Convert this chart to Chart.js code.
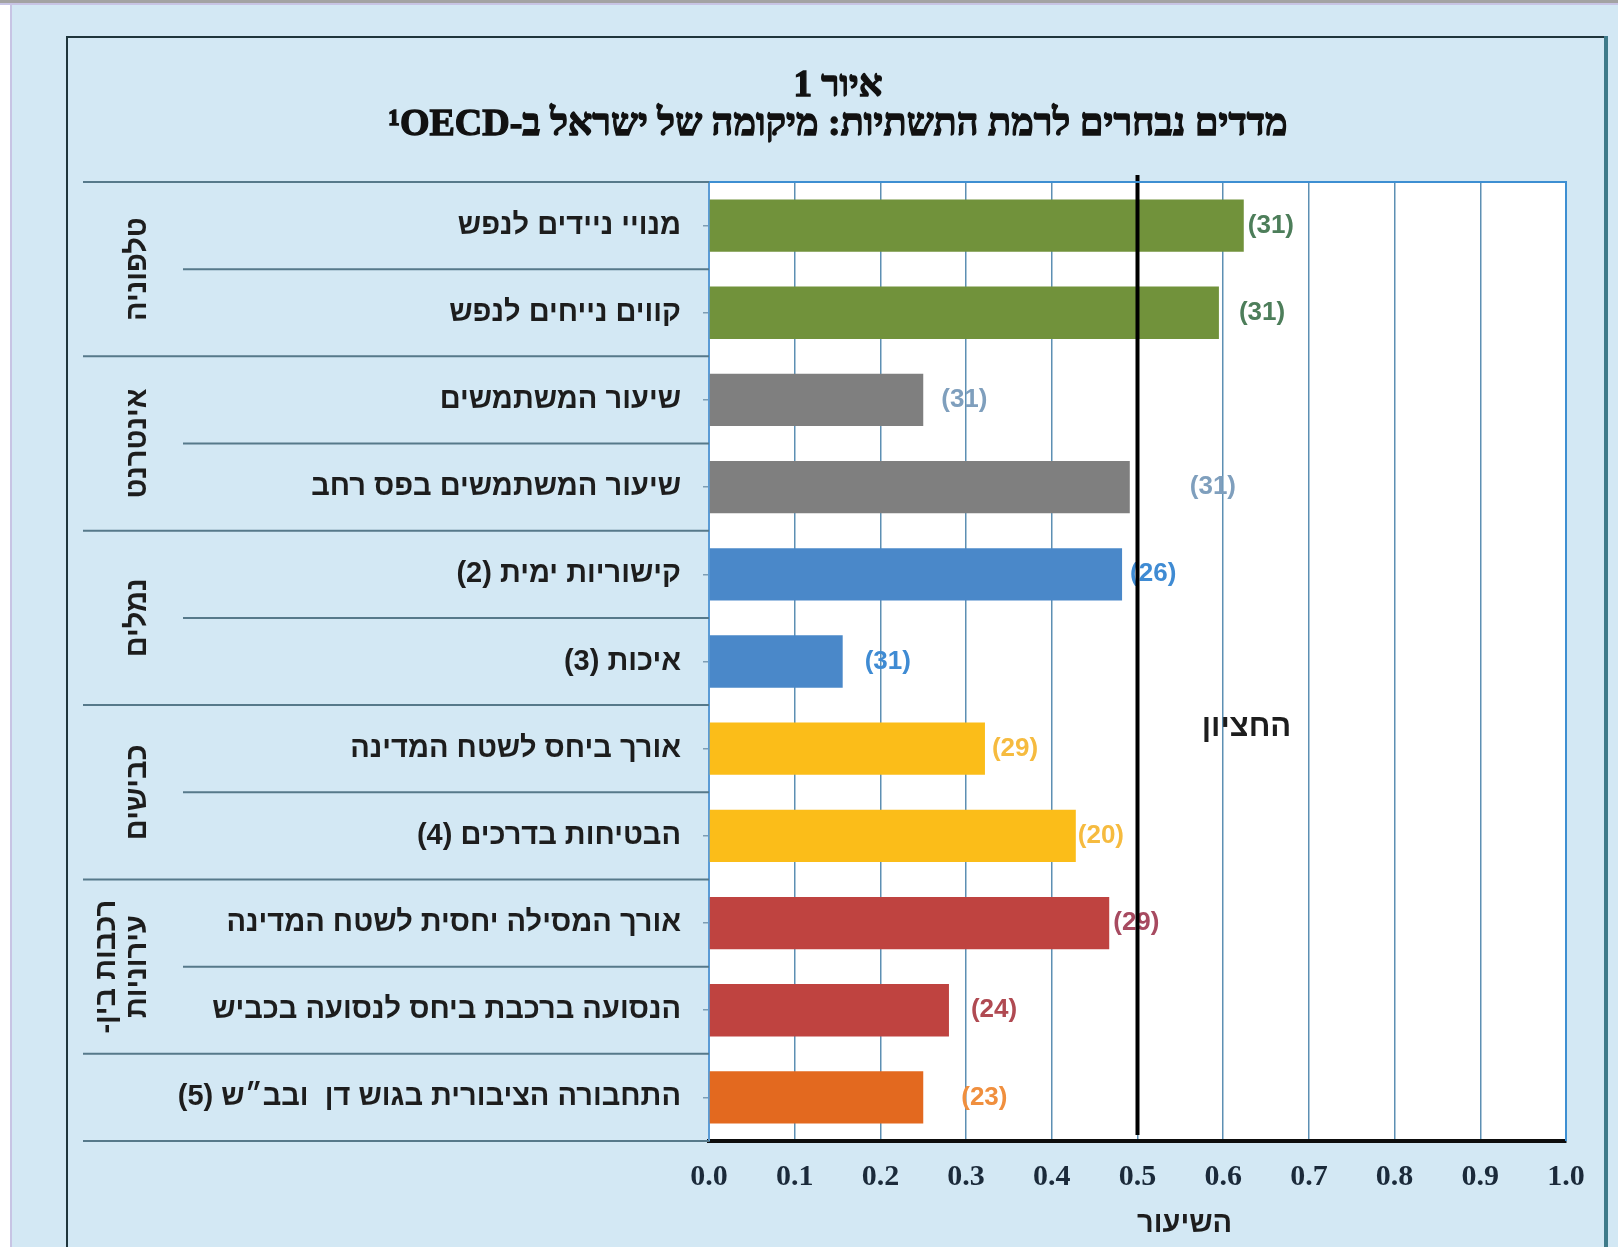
<!DOCTYPE html>
<html lang="he">
<head>
<meta charset="UTF-8">
<title>איור 1</title>
<script src="https://cdn.jsdelivr.net/npm/chart.js"></script>
<style>
body { margin:0; padding:0; background:#d3e8f4; overflow:hidden; }
#wrap { position:relative; width:1618px; height:1247px; }
</style>
</head>
<body>
<div id="wrap"><canvas id="infraChart" width="1618" height="1247" dir="rtl"></canvas></div>
<script>
// data
const indicators = [
  'מנויי ניידים לנפש',
  'קווים נייחים לנפש',
  'שיעור המשתמשים',
  'שיעור המשתמשים בפס רחב',
  'קישוריות ימית (2)',
  'איכות (3)',
  'אורך ביחס לשטח המדינה',
  'הבטיחות בדרכים (4)',
  'אורך המסילה יחסית לשטח המדינה',
  'הנסועה ברכבת ביחס לנסועה בכביש',
  'התחבורה הציבורית בגוש דן  ובב״ש (5)'
];
const ratios = [0.624, 0.595, 0.25, 0.491, 0.482, 0.156, 0.322, 0.428, 0.467, 0.28, 0.25];
const ranks = ['(31)', '(31)', '(31)', '(31)', '(26)', '(31)', '(29)', '(20)', '(29)', '(24)', '(23)'];
const groupNames = [['טלפוניה'], ['אינטרנט'], ['נמלים'], ['כבישים'], ['רכבות בין-', 'עירוניות'], []];
const groupSizes = [2, 2, 2, 2, 2, 1];
const median = 0.5;
const medianLabel = 'החציון';
const xTitle = 'השיעור';
const titleLines = ['איור 1', 'מדדים נבחרים לרמת התשתיות: מיקומה של ישראל ב-OECD\u200F¹'];

// styling
const barColors = ['#71923b','#71923b','#7f7f7f','#7f7f7f','#4a88c9','#4a88c9','#fbbd19','#fbbd19','#bf4340','#bf4340','#e3691f'];
const rankColors = ['#4d7e5a','#4d7e5a','#7f9fbd','#7f9fbd','#3f8bd3','#3f8bd3','#f6bb3f','#f6bb3f','#a74a60','#b04a52','#f08f3e'];
const rankGap = [4, 20, 18, 60, 8, 22, 7, 2, 4, 22, 38];
const SANS = "'Liberation Sans', 'DejaVu Sans', sans-serif";
const SERIF = "'Liberation Serif', 'DejaVu Serif', serif";

const backdrop = {
  id: 'backdrop',
  beforeDraw(chart) {
    const {ctx, width, height, chartArea} = chart;
    ctx.save();
    ctx.fillStyle = '#d3e8f4';
    ctx.fillRect(0, 0, width, height);
    ctx.fillStyle = '#ffffff';
    ctx.fillRect(0, 0, 10, height);
    ctx.fillStyle = '#c7c4e4';
    ctx.fillRect(10, 0, 2, height);
    ctx.fillStyle = '#a3a3a3';
    ctx.fillRect(0, 0, width, 3);
    ctx.fillStyle = '#c7c4e4';
    ctx.fillRect(0, 3, width, 2);
    // outer frame
    ctx.strokeStyle = '#1f353c';
    ctx.lineWidth = 2;
    ctx.beginPath();
    ctx.moveTo(67, height + 5);
    ctx.lineTo(67, 37);
    ctx.lineTo(1605, 37);
    ctx.stroke();
    ctx.strokeStyle = '#3f7b8a';
    ctx.lineWidth = 4;
    ctx.beginPath();
    ctx.moveTo(1606, 36);
    ctx.lineTo(1606, height + 5);
    ctx.stroke();
    // heading, stroked a little so the hebrew reads bold
    ctx.fillStyle = '#111';
    ctx.strokeStyle = '#111';
    ctx.lineWidth = 1.3;
    ctx.textAlign = 'center';
    ctx.textBaseline = 'middle';
    ctx.font = 'bold 37px ' + SERIF;
    ctx.fillText(titleLines[0], 838, 86);
    ctx.strokeText(titleLines[0], 838, 86);
    ctx.font = 'bold 38px ' + SERIF;
    ctx.fillText(titleLines[1], 838, 125);
    ctx.strokeText(titleLines[1], 838, 125);
    // plot background
    ctx.fillStyle = '#ffffff';
    ctx.fillRect(chartArea.left, chartArea.top, chartArea.right - chartArea.left, chartArea.bottom - chartArea.top);
    ctx.restore();
  }
};

const labelTable = {
  id: 'labelTable',
  afterDraw(chart) {
    const {ctx, chartArea} = chart;
    const y = chart.scales.y;
    const band = y.getPixelForValue(1) - y.getPixelForValue(0);
    const edge = i => y.getPixelForValue(i) - band / 2;
    ctx.save();
    ctx.strokeStyle = '#56798a';
    ctx.lineWidth = 2;
    // group starts get long lines, inner row splits get short ones
    const groupEdges = [0];
    groupSizes.forEach(n => groupEdges.push(groupEdges[groupEdges.length - 1] + n));
    for (let i = 0; i <= indicators.length; i++) {
      const x0 = groupEdges.includes(i) ? 83 : 183;
      ctx.beginPath();
      ctx.moveTo(x0, edge(i));
      ctx.lineTo(chartArea.left, edge(i));
      ctx.stroke();
    }
    // rotated group names
    ctx.fillStyle = '#1d1d1d';
    ctx.font = 'bold 29px ' + SANS;
    ctx.textAlign = 'center';
    ctx.textBaseline = 'middle';
    groupNames.forEach((lines, g) => {
      const mid = (edge(groupEdges[g]) + edge(groupEdges[g + 1])) / 2;
      lines.forEach((txt, k) => {
        const x = 138 - (lines.length - 1 - k) * 31;
        ctx.save();
        ctx.translate(x, mid);
        ctx.rotate(-Math.PI / 2);
        ctx.fillText(txt, 0, 0);
        ctx.restore();
      });
    });
    // top and right plot borders
    ctx.strokeStyle = '#3d8fd2';
    ctx.lineWidth = 2;
    ctx.beginPath();
    ctx.moveTo(chartArea.left, chartArea.top);
    ctx.lineTo(chartArea.right, chartArea.top);
    ctx.lineTo(chartArea.right, chartArea.bottom);
    ctx.stroke();
    // x axis title
    const xs = chart.scales.x;
    ctx.fillStyle = '#1d1d1d';
    ctx.font = 'bold 29px ' + SANS;
    ctx.fillText(xTitle, xs.getPixelForValue(0.555), chartArea.bottom + 83);
    ctx.restore();
  }
};

const rankLabels = {
  id: 'rankLabels',
  afterDatasetsDraw(chart) {
    const {ctx} = chart;
    const meta = chart.getDatasetMeta(0);
    ctx.save();
    ctx.font = 'bold 26px ' + SANS;
    ctx.textAlign = 'left';
    ctx.textBaseline = 'middle';
    meta.data.forEach((bar, i) => {
      ctx.fillStyle = rankColors[i];
      ctx.fillText(ranks[i], bar.x + rankGap[i], bar.y);
    });
    // median line on top of everything in the plot
    const {chartArea} = chart;
    const mx = chart.scales.x.getPixelForValue(median);
    ctx.strokeStyle = '#000';
    ctx.lineWidth = 4;
    ctx.beginPath();
    ctx.moveTo(mx, chartArea.top - 7);
    ctx.lineTo(mx, chartArea.bottom - 6);
    ctx.stroke();
    ctx.fillStyle = '#1d1d1d';
    ctx.font = 'bold 31px ' + SANS;
    ctx.textAlign = 'center';
    ctx.fillText(medianLabel, mx + 109, chart.scales.y.getPixelForValue(5.76));
    ctx.restore();
  }
};

new Chart(document.getElementById('infraChart').getContext('2d'), {
  type: 'bar',
  data: {
    labels: indicators,
    datasets: [{
      data: ratios,
      backgroundColor: barColors,
      borderWidth: 0,
      barPercentage: 0.6,
      categoryPercentage: 1
    }]
  },
  options: {
    indexAxis: 'y',
    responsive: false,
    animation: false,
    layout: { padding: { left: 110, right: 52, top: 182, bottom: 0 } },
    plugins: {
      legend: { display: false },
      tooltip: { enabled: false },
      title: { display: false }
    },
    scales: {
      x: {
        min: 0,
        max: 1,
        afterFit: s => { s.height = 106; },
        grid: { color: '#5d8fb3', lineWidth: 1.5, drawTicks: false },
        border: { color: '#0d0d0d', width: 4 },
        ticks: {
          stepSize: 0.1,
          padding: 18,
          maxRotation: 0,
          color: '#1b2a3a',
          font: { family: SERIF, size: 30, weight: 'bold' },
          callback: v => v.toFixed(1)
        }
      },
      y: {
        afterFit: s => { s.width = 599; },
        grid: { drawOnChartArea: false, drawTicks: true, tickLength: 6, offset: false, color: '#7d9db3', lineWidth: 1.5 },
        border: { color: '#5b9bd5', width: 2 },
        ticks: {
          autoSkip: false,
          padding: 22,
          color: '#1d1d1d',
          font: { family: SANS, size: 29, weight: 'bold' }
        }
      }
    }
  },
  plugins: [backdrop, labelTable, rankLabels]
});
</script>
</body>
</html>
